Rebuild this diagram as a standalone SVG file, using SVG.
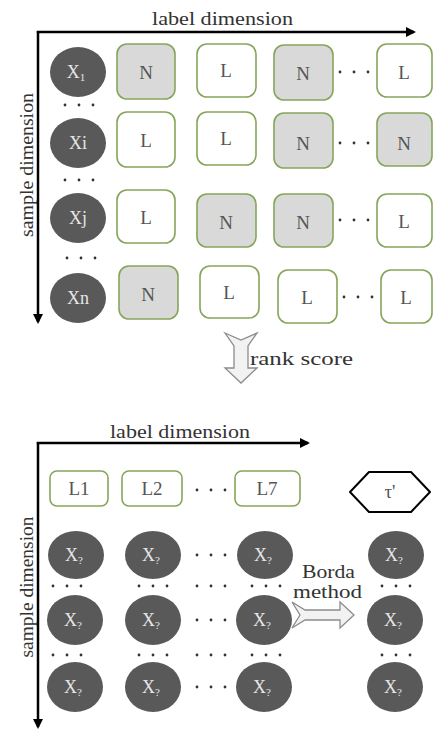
<svg xmlns="http://www.w3.org/2000/svg" width="433" height="736" viewBox="0 0 433 736" font-family="'Liberation Serif', 'DejaVu Serif', serif">
<style>
.ax{stroke:#000;stroke-width:2.5;fill:none}
.c{fill:#595959}
.ct{fill:#e6e6e6;font-size:18px;text-anchor:middle;font-family:"Liberation Serif","DejaVu Serif",serif}
.sub{font-size:11px}
.rg{fill:#d9d9d9;stroke:#86a55a;stroke-width:1.6}
.rw{fill:#fff;stroke:#86a55a;stroke-width:1.6}
.rt{fill:#555;font-size:19px;text-anchor:middle;font-family:"Liberation Serif","DejaVu Serif",serif}
.lab{fill:#333;font-size:19px;font-family:"Liberation Serif","DejaVu Serif",serif}
.d{fill:#333}
.blk{fill:#f2f2f2;stroke:#8c8c8c;stroke-width:1.3;stroke-linejoin:miter}
</style>
<defs>
<marker id="ah" markerWidth="10" markerHeight="10" refX="8" refY="5" orient="auto" markerUnits="userSpaceOnUse" viewBox="0 0 10 10">
<path d="M0,0 L10,5 L0,10 z" fill="#000"/>
</marker>
<g id="dots3"><circle cx="0" cy="0" r="1.4"/><circle cx="14" cy="0" r="1.4"/><circle cx="28" cy="0" r="1.4"/></g>
</defs>

<g id="connectors">
<path class="ax" d="M36.8,32 H414" marker-end="url(#ah)"/>
<path class="ax" d="M38,31 V322" marker-end="url(#ah)"/>
<path class="ax" d="M36.8,443 H308" marker-end="url(#ah)"/>
<path class="ax" d="M38,442 V727" marker-end="url(#ah)"/>
<polygon id="rank-arrow" class="blk" points="225,333 241,340 257,333 248,346 248,368 257,368 241,383 225,368 234,368 234,346"/>
<polygon id="borda-arrow" class="blk" points="292,602 305,610 340,610 340,602 354,615 340,628 340,620 305,620 292,628 300,615"/>
</g>

<g id="axis-labels">
<text class="lab" x="152" y="25" textLength="141" lengthAdjust="spacingAndGlyphs">label dimension</text>
<text class="lab" transform="translate(33,165) rotate(-90)" text-anchor="middle" textLength="144" lengthAdjust="spacingAndGlyphs">sample dimension</text>
<text class="lab" x="110" y="438" textLength="140" lengthAdjust="spacingAndGlyphs">label dimension</text>
<text class="lab" transform="translate(33,587) rotate(-90)" text-anchor="middle" textLength="141" lengthAdjust="spacingAndGlyphs">sample dimension</text>
<text class="lab" x="250" y="365" textLength="103" lengthAdjust="spacingAndGlyphs">rank score</text>
<text class="lab" x="302" y="578" font-size="18" textLength="53" lengthAdjust="spacingAndGlyphs">Borda</text>
<text class="lab" x="293" y="598" font-size="18" textLength="69" lengthAdjust="spacingAndGlyphs">method</text>
</g>

<!-- top samples -->
<g id="x1"><ellipse class="c" cx="78" cy="72" rx="28" ry="25"/><text class="ct" x="76" y="78">X<tspan class="sub" dy="3">1</tspan></text></g>
<g id="xi"><ellipse class="c" cx="78" cy="143" rx="28" ry="25"/><text class="ct" x="78" y="149">Xi</text></g>
<g id="xj"><ellipse class="c" cx="78" cy="218" rx="28" ry="25"/><text class="ct" x="78" y="224">Xj</text></g>
<g id="xn"><ellipse class="c" cx="78" cy="298" rx="28" ry="25"/><text class="ct" x="78" y="304">Xn</text></g>

<g class="d" id="top-dots">
<use href="#dots3" x="65" y="105"/>
<use href="#dots3" x="65" y="180"/>
<use href="#dots3" x="67" y="258"/>
<use href="#dots3" x="340" y="72"/>
<use href="#dots3" x="340" y="143"/>
<use href="#dots3" x="340" y="220"/>
<use href="#dots3" x="344" y="297"/>
</g>

<g id="r1c1"><rect class="rg" x="117" y="44" width="58" height="55" rx="10"/><text class="rt" x="146" y="79">N</text></g>
<g id="r1c2"><rect class="rw" x="197" y="44" width="59" height="53" rx="10"/><text class="rt" x="226" y="77">L</text></g>
<g id="r1c3"><rect class="rg" x="274" y="45" width="59" height="55" rx="10"/><text class="rt" x="303" y="80">N</text></g>
<g id="r1c4"><rect class="rw" x="377" y="44" width="55" height="53" rx="10"/><text class="rt" x="404" y="79">L</text></g>

<g id="r2c1"><rect class="rw" x="117" y="112" width="58" height="55" rx="10"/><text class="rt" x="146" y="147">L</text></g>
<g id="r2c2"><rect class="rw" x="197" y="112" width="59" height="53" rx="10"/><text class="rt" x="226" y="145">L</text></g>
<g id="r2c3"><rect class="rg" x="274" y="113" width="59" height="55" rx="10"/><text class="rt" x="303" y="150">N</text></g>
<g id="r2c4"><rect class="rg" x="377" y="113" width="55" height="53" rx="10"/><text class="rt" x="404" y="150">N</text></g>

<g id="r3c1"><rect class="rw" x="117" y="190" width="58" height="53" rx="10"/><text class="rt" x="146" y="224">L</text></g>
<g id="r3c2"><rect class="rg" x="197" y="194" width="59" height="53" rx="10"/><text class="rt" x="226" y="229">N</text></g>
<g id="r3c3"><rect class="rg" x="274" y="194" width="59" height="53" rx="10"/><text class="rt" x="303" y="229">N</text></g>
<g id="r3c4"><rect class="rw" x="377" y="194" width="55" height="53" rx="10"/><text class="rt" x="404" y="228">L</text></g>

<g id="r4c1"><rect class="rg" x="119" y="266" width="59" height="53" rx="10"/><text class="rt" x="148" y="301">N</text></g>
<g id="r4c2"><rect class="rw" x="200" y="266" width="59" height="52" rx="10"/><text class="rt" x="229" y="299">L</text></g>
<g id="r4c3"><rect class="rw" x="278" y="270" width="59" height="53" rx="10"/><text class="rt" x="307" y="304">L</text></g>
<g id="r4c4"><rect class="rw" x="381" y="270" width="51" height="53" rx="10"/><text class="rt" x="406" y="304">L</text></g>

<!-- bottom -->
<g id="L1"><rect class="rw" x="50" y="471" width="58" height="35" rx="7"/><text class="rt" x="79" y="495" font-size="20">L1</text></g>
<g id="L2"><rect class="rw" x="122" y="471" width="60" height="35" rx="7"/><text class="rt" x="152" y="495" font-size="20">L2</text></g>
<g id="L7"><rect class="rw" x="235" y="471" width="65" height="35" rx="7"/><text class="rt" x="267" y="495" font-size="20">L7</text></g>
<g id="tau"><polygon points="350,492 369,472 411,472 430,492 411,512 369,512" fill="#fff" stroke="#000" stroke-width="2" stroke-linejoin="round"/><text class="rt" x="390" y="498" font-size="20" fill="#222">τ'</text></g>

<g class="d" id="bottom-dots">
<use href="#dots3" x="197" y="490"/>
<use href="#dots3" x="197" y="555"/>
<use href="#dots3" x="197" y="620"/>
<use href="#dots3" x="197" y="687"/>
<use href="#dots3" x="53" y="586"/>
<use href="#dots3" x="139" y="586"/>
<use href="#dots3" x="197" y="586"/>
<use href="#dots3" x="252" y="586"/>
<use href="#dots3" x="382" y="586"/>
<use href="#dots3" x="53" y="655"/>
<use href="#dots3" x="139" y="655"/>
<use href="#dots3" x="197" y="655"/>
<use href="#dots3" x="252" y="655"/>
<use href="#dots3" x="382" y="655"/>
</g>

<g id="b11"><ellipse class="c" cx="76" cy="555" rx="28" ry="24"/><text class="ct" x="74" y="561">X<tspan class="sub" dy="3">?</tspan></text></g>
<g id="b12"><ellipse class="c" cx="153" cy="555" rx="28" ry="24"/><text class="ct" x="151" y="561">X<tspan class="sub" dy="3">?</tspan></text></g>
<g id="b13"><ellipse class="c" cx="265" cy="555" rx="28" ry="24"/><text class="ct" x="263" y="561">X<tspan class="sub" dy="3">?</tspan></text></g>
<g id="b14"><ellipse class="c" cx="396" cy="555" rx="28" ry="24"/><text class="ct" x="394" y="561">X<tspan class="sub" dy="3">?</tspan></text></g>

<g id="b21"><ellipse class="c" cx="75" cy="620" rx="28" ry="25"/><text class="ct" x="73" y="626">X<tspan class="sub" dy="3">?</tspan></text></g>
<g id="b22"><ellipse class="c" cx="153" cy="620" rx="28" ry="25"/><text class="ct" x="151" y="626">X<tspan class="sub" dy="3">?</tspan></text></g>
<g id="b23"><ellipse class="c" cx="264" cy="620" rx="28" ry="25"/><text class="ct" x="262" y="626">X<tspan class="sub" dy="3">?</tspan></text></g>
<g id="b24"><ellipse class="c" cx="395" cy="620" rx="28" ry="25"/><text class="ct" x="393" y="626">X<tspan class="sub" dy="3">?</tspan></text></g>

<g id="b31"><ellipse class="c" cx="75" cy="687" rx="28" ry="25"/><text class="ct" x="73" y="693">X<tspan class="sub" dy="3">?</tspan></text></g>
<g id="b32"><ellipse class="c" cx="153" cy="687" rx="28" ry="25"/><text class="ct" x="151" y="693">X<tspan class="sub" dy="3">?</tspan></text></g>
<g id="b33"><ellipse class="c" cx="264" cy="687" rx="28" ry="25"/><text class="ct" x="262" y="693">X<tspan class="sub" dy="3">?</tspan></text></g>
<g id="b34"><ellipse class="c" cx="395" cy="687" rx="28" ry="25"/><text class="ct" x="393" y="693">X<tspan class="sub" dy="3">?</tspan></text></g>
</svg>
